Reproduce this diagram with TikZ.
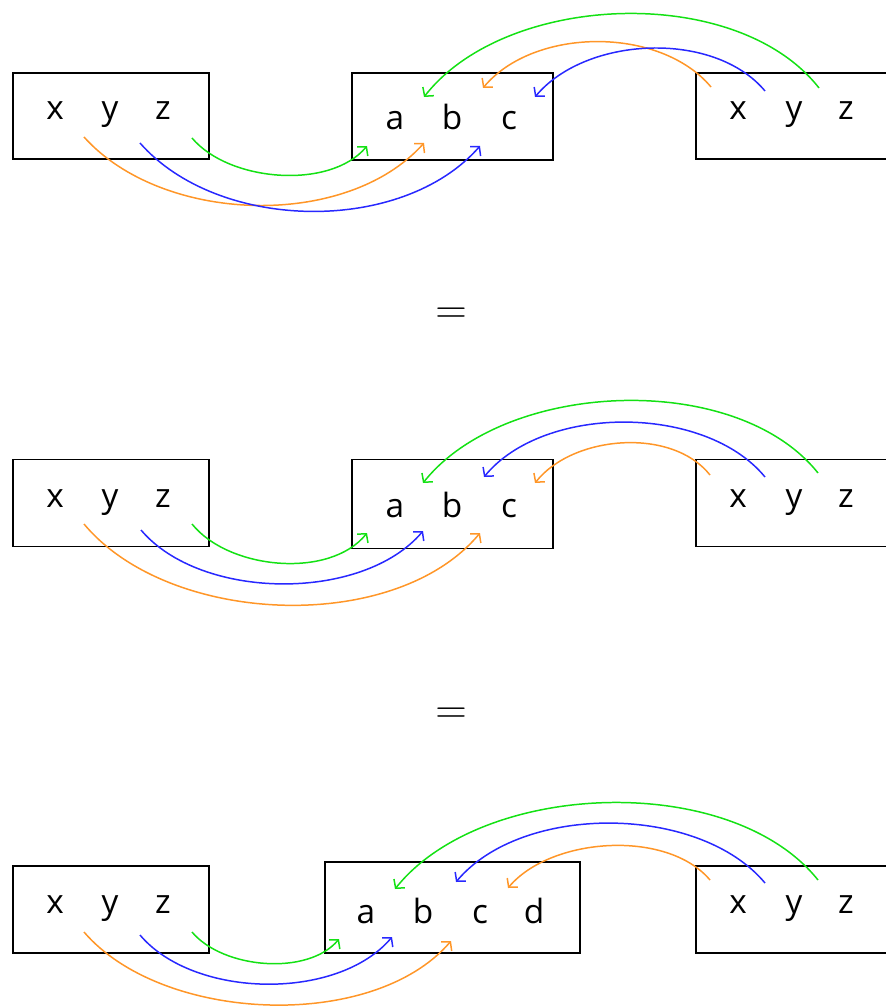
\documentclass[tikz,border=0pt]{standalone}
\usepackage{fontspec}
\setmainfont{Open Sans}
\usetikzlibrary{arrows.meta}
\definecolor{cgreen}{RGB}{20,225,20}
\definecolor{corange}{RGB}{255,150,40}
\definecolor{cblue}{RGB}{40,40,255}
\tikzset{
  box/.style={draw=black, line width=0.9pt, inner sep=0pt},
  lbl/.style={anchor=base, inner sep=0pt, font=\fontsize{19}{22}\selectfont},
  eqsign/.style={inner sep=0pt, font=\fontsize{24}{28}\selectfont},
  arc/.style={line width=0.85pt, -{Straight Barb[length=3.5pt,width=8pt]}},
  g/.style={arc, cgreen},
  o/.style={arc, corange},
  b/.style={arc, cblue}
}
\begin{document}
\begin{tikzpicture}[x=0.02cm, y=-0.02cm]
\useasboundingbox (0,0) rectangle (885,1006);
% ---------- Row 1 ----------
\node[box, minimum width=3.92cm, minimum height=1.72cm] (L1) at (111,116) {};
\node[box, minimum width=4.02cm, minimum height=1.74cm] (M1) at (452.5,116.5) {};
\node[box, minimum width=3.92cm, minimum height=1.72cm] (R1) at (794,116) {};
\node[lbl] (x1) at (55,120) {x};
\node[lbl] (y1) at (110,120) {y};
\node[lbl] (z1) at (163,120) {z};
\node[lbl] (a1) at (395,130) {a};
\node[lbl] (b1) at (452,130) {b};
\node[lbl] (c1) at (509,130) {c};
\node[lbl] (xr1) at (738,120) {x};
\node[lbl] (yr1) at (794,120) {y};
\node[lbl] (zr1) at (846,120) {z};
\draw[g] ([shift={(29,18)}]z1.base) .. controls +(37,44) and +(-37,44) .. ([shift={(-28,16)}]a1.base);
\draw[o] ([shift={(29,17)}]x1.base) .. controls +(78,87) and +(-78,87) .. ([shift={(-28,13)}]b1.base);
\draw[b] ([shift={(30,23)}]y1.base) .. controls +(78,89) and +(-78,89) .. ([shift={(-29,16)}]c1.base);
\draw[g] ([shift={(-27,-32)}]zr1.base) .. controls +(-82,-105) and +(82,-105) .. ([shift={(29,-33)}]a1.base);
\draw[o] ([shift={(-27,-33)}]xr1.base) .. controls +(-51,-61) and +(51,-61) .. ([shift={(31,-42)}]b1.base);
\draw[b] ([shift={(-29,-29)}]yr1.base) .. controls +(-51,-61) and +(51,-61) .. ([shift={(26,-33)}]c1.base);
\node[eqsign] (eq1) at (451,316) {$=$};
% ---------- Row 2 ----------
\node[box, minimum width=3.92cm, minimum height=1.74cm] (L2) at (111,503) {};
\node[box, minimum width=4.02cm, minimum height=1.78cm] (M2) at (452.5,504) {};
\node[box, minimum width=3.92cm, minimum height=1.74cm] (R2) at (794,503) {};
\node[lbl] (x2) at (55,507) {x};
\node[lbl] (y2) at (110,507) {y};
\node[lbl] (z2) at (163,507) {z};
\node[lbl] (a2) at (395,517) {a};
\node[lbl] (b2) at (452,517) {b};
\node[lbl] (c2) at (509,517) {c};
\node[lbl] (xr2) at (738,507) {x};
\node[lbl] (yr2) at (794,507) {y};
\node[lbl] (zr2) at (846,507) {z};
\draw[g] ([shift={(29,17)}]z2.base) .. controls +(37,46) and +(-37,46) .. ([shift={(-28,16)}]a2.base);
\draw[b] ([shift={(31,23)}]y2.base) .. controls +(60,71) and +(-60,71) .. ([shift={(-29,14)}]b2.base);
\draw[o] ([shift={(29,17)}]x2.base) .. controls +(85,102) and +(-85,102) .. ([shift={(-29,16)}]c2.base);
\draw[g] ([shift={(-28,-34)}]zr2.base) .. controls +(-82,-103) and +(82,-103) .. ([shift={(28,-34)}]a2.base);
\draw[b] ([shift={(-29,-30)}]yr2.base) .. controls +(-60,-73) and +(60,-73) .. ([shift={(32,-40)}]b2.base);
\draw[o] ([shift={(-28,-32)}]xr2.base) .. controls +(-38,-48) and +(38,-48) .. ([shift={(26,-34)}]c2.base);
\node[eqsign] (eq2) at (451,716) {$=$};
% ---------- Row 3 ----------
\node[box, minimum width=3.92cm, minimum height=1.74cm] (L3) at (111,909.5) {};
\node[box, minimum width=5.10cm, minimum height=1.82cm] (M3) at (452.5,907.5) {};
\node[box, minimum width=3.92cm, minimum height=1.74cm] (R3) at (794,909.5) {};
\node[lbl] (x3) at (55,913) {x};
\node[lbl] (y3) at (110,913) {y};
\node[lbl] (z3) at (163,913) {z};
\node[lbl] (a3) at (366,923) {a};
\node[lbl] (b3) at (423,923) {b};
\node[lbl] (c3) at (480,923) {c};
\node[lbl] (d3) at (534,923) {d};
\node[lbl] (xr3) at (738,913) {x};
\node[lbl] (yr3) at (794,913) {y};
\node[lbl] (zr3) at (846,913) {z};
\draw[g] ([shift={(29,19)}]z3.base) .. controls +(31,37) and +(-31,37) .. ([shift={(-27,16)}]a3.base);
\draw[b] ([shift={(30,22)}]y3.base) .. controls +(54,64) and +(-54,64) .. ([shift={(-31,14)}]b3.base);
\draw[o] ([shift={(29,19)}]x3.base) .. controls +(78,91) and +(-78,91) .. ([shift={(-29,18)}]c3.base);
\draw[g] ([shift={(-28,-33)}]zr3.base) .. controls +(-87,-109) and +(87,-109) .. ([shift={(29,-34)}]a3.base);
\draw[b] ([shift={(-29,-30)}]yr3.base) .. controls +(-66,-79) and +(66,-79) .. ([shift={(33,-41)}]b3.base);
\draw[o] ([shift={(-28,-33)}]xr3.base) .. controls +(-43,-51) and +(43,-51) .. ([shift={(28,-35)}]c3.base);
\end{tikzpicture}
\end{document}
